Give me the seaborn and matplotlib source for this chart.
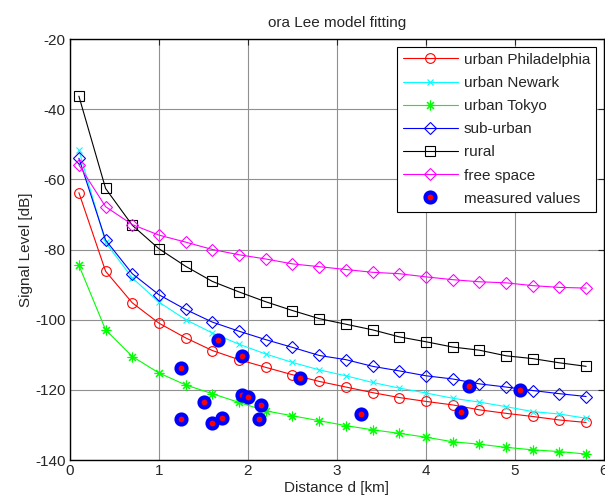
import numpy as np
import pandas as pd
import seaborn as sns
import matplotlib
matplotlib.use("Agg")
import matplotlib.pyplot as plt

# distance grid (km)
d = [0.1, 0.4, 0.7, 1.0, 1.3, 1.6, 1.9, 2.2, 2.5, 2.8,
     3.1, 3.4, 3.7, 4.0, 4.3, 4.6, 4.9, 5.2, 5.5, 5.8]

philadelphia = [-63.8, -86.2, -95.2, -101.0, -105.2, -108.8, -111.4, -113.6, -115.7, -117.6,
                -119.2, -120.8, -122.2, -123.3, -124.3, -125.7, -126.7, -127.6, -128.6, -129.3]
newark = [-51.7, -78.0, -88.1, -95.0, -100.0, -103.8, -107.0, -109.8, -112.2, -114.3,
          -116.0, -117.9, -119.5, -120.9, -122.4, -123.5, -124.8, -126.2, -126.9, -128.1]
tokyo = [-84.5, -102.9, -110.5, -115.2, -118.6, -121.1, -123.6, -126.0, -127.4, -128.8,
         -130.2, -131.4, -132.4, -133.5, -134.8, -135.5, -136.4, -137.1, -137.6, -138.3]
suburban = [-54.0, -77.3, -86.9, -92.9, -97.1, -100.7, -103.3, -105.7, -107.9, -110.2,
            -111.4, -113.3, -114.6, -116.0, -116.9, -118.3, -119.2, -120.2, -121.1, -121.9]
rural = [-36.3, -62.6, -73.1, -79.8, -84.8, -89.1, -92.1, -94.9, -97.4, -99.7,
         -101.3, -102.9, -104.9, -106.3, -107.8, -108.7, -110.3, -111.1, -112.3, -113.3]
free_space = [-55.9, -67.8, -72.9, -75.9, -77.9, -80.0, -81.5, -82.7, -84.1, -84.9,
              -85.7, -86.5, -86.9, -87.8, -88.6, -89.2, -89.5, -90.3, -90.8, -91.0]

# measured values
meas_d = [1.66, 1.93, 1.25, 2.58, 1.93, 2.00, 1.51, 2.15, 1.245, 1.60, 1.71, 2.12,
          3.27, 4.39, 4.48, 5.06]
meas_db = [-105.9, -110.3, -113.8, -116.7, -121.6, -121.9, -123.6, -124.3, -128.3, -129.5,
           -127.9, -128.3, -127.0, -126.2, -119.0, -120.0]

series = [
    ("urban Philadelphia", philadelphia, "#ff0000", "o", 7),
    ("urban Newark", newark, "#00ffff", "x", 5),
    ("urban Tokyo", tokyo, "#00ff00", (8, 2, 0), 7),
    ("sub-urban", suburban, "#0000ff", "D", 6),
    ("rural", rural, "#000000", "s", 7),
    ("free space", free_space, "#ff00ff", "D", 6),
]

sns.set_style("white")
plt.rcParams["font.family"] = ["Liberation Sans", "DejaVu Sans"]
plt.rcParams["font.size"] = 11
plt.rcParams["axes.unicode_minus"] = False

fig = plt.figure(figsize=(6.05, 5.04), dpi=100)
ax = fig.add_axes([0.1157, 0.0873, 0.8826, 0.8353])

for name, vals, col, mk, ms in series:
    df = pd.DataFrame({"d": d, "db": vals})
    sns.lineplot(data=df, x="d", y="db", ax=ax, color=col, marker=mk, markersize=ms,
                 markerfacecolor="none", markeredgecolor=col, markeredgewidth=0.8,
                 linewidth=0.8, label=name, sort=False)

mdf = pd.DataFrame({"d": meas_d, "db": meas_db})
ax.plot(mdf["d"], mdf["db"], linestyle="none", marker="o", markersize=7.2,
        markerfacecolor="#ff0000", markeredgecolor="#0000ff", markeredgewidth=3.0,
        label="measured values")

ax.set_xlim(0, 6)
ax.set_ylim(-140, -20)
ax.set_xticks(range(0, 7))
ax.set_yticks(range(-140, 0, 20))
ax.grid(True, color="#909090", linewidth=0.8)
ax.tick_params(direction="in", top=True, right=True, length=4, labelsize=11, pad=3)
for s in ax.spines.values():
    s.set_color("k")
    s.set_linewidth(1.0)

ax.set_title("ora Lee model fitting", fontsize=11, pad=9)
ax.set_xlabel("Distance d [km]", fontsize=11, labelpad=2)
ax.set_ylabel("Signal Level [dB]", fontsize=11, labelpad=2)

leg = ax.legend(loc="upper right", fontsize=11, frameon=True, fancybox=False,
                edgecolor="k", framealpha=1, handlelength=3.6, handletextpad=0.4,
                borderaxespad=0.5, labelspacing=0.6)
leg.get_frame().set_linewidth(0.8)

fig.savefig("out.png", dpi=100)
